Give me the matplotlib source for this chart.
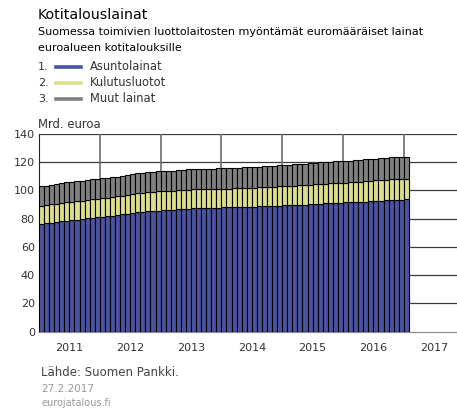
import numpy as np
import matplotlib
matplotlib.use("Agg")
import matplotlib.pyplot as plt

plt.rcParams['font.family'] = ['DejaVu Sans']

# Monthly data Jan 2011 .. Jan 2017, bn euro
asuntolainat = [
    76.3, 76.7, 77.1, 77.6, 78.1, 78.6, 79.0, 79.4, 79.8, 80.3, 80.7, 81.0,
    81.4, 81.7, 82.1, 82.6, 83.1, 83.6, 84.1, 84.5, 84.9, 85.3, 85.6, 85.8,
    86.0, 86.2, 86.4, 86.7, 86.9, 87.1, 87.3, 87.5, 87.6, 87.7, 87.8, 87.9,
    88.0, 88.1, 88.2, 88.3, 88.4, 88.5, 88.6, 88.7, 88.8, 89.0, 89.1, 89.2,
    89.4, 89.5, 89.6, 89.8, 90.0, 90.2, 90.4, 90.6, 90.8, 91.0, 91.2, 91.3,
    91.5, 91.6, 91.8, 92.0, 92.2, 92.5, 92.7, 92.9, 93.1, 93.3, 93.5, 93.6,
    93.8,
]
kulutusluotot = [
    12.9, 12.9, 13.0, 13.0, 13.0, 13.1, 13.1, 13.1, 13.1, 13.2, 13.2, 13.2,
    13.1, 13.1, 13.2, 13.2, 13.3, 13.4, 13.5, 13.5, 13.5, 13.5, 13.6, 13.6,
    13.5, 13.5, 13.5, 13.5, 13.5, 13.5, 13.5, 13.4, 13.4, 13.4, 13.4, 13.4,
    13.3, 13.3, 13.3, 13.3, 13.4, 13.4, 13.4, 13.5, 13.5, 13.5, 13.6, 13.7,
    13.7, 13.7, 13.8, 13.8, 13.9, 13.9, 14.0, 14.0, 14.1, 14.1, 14.2, 14.2,
    14.1, 14.1, 14.2, 14.2, 14.3, 14.3, 14.4, 14.4, 14.5, 14.5, 14.6, 14.6,
    14.6,
]
muut_lainat = [
    13.8, 13.8, 13.9, 13.9, 14.0, 14.0, 14.0, 14.1, 14.1, 14.1, 14.1, 14.1,
    14.1, 14.1, 14.1, 14.1, 14.1, 14.1, 14.1, 14.1, 14.1, 14.2, 14.2, 14.2,
    14.2, 14.2, 14.2, 14.2, 14.3, 14.3, 14.3, 14.3, 14.3, 14.3, 14.3, 14.3,
    14.3, 14.4, 14.4, 14.5, 14.6, 14.6, 14.6, 14.7, 14.7, 14.8, 14.8, 14.9,
    14.9, 15.0, 15.1, 15.1, 15.2, 15.2, 15.2, 15.3, 15.3, 15.3, 15.4, 15.4,
    15.4, 15.4, 15.4, 15.5, 15.5, 15.5, 15.5, 15.5, 15.6, 15.6, 15.6, 15.6,
    15.6,
]
start_year = 2011
years = [2011, 2012, 2013, 2014, 2015, 2016, 2017]
series_names = ["Asuntolainat", "Kulutusluotot", "Muut lainat"]
colors = ["#4a52a2", "#dcde8c", "#808080"]

fig = plt.figure(figsize=(4.57, 4.09), dpi=100)
ax = fig.add_axes([39 / 457, 77.3 / 409, 1 - 39 / 457, 197.7 / 409])

n = len(asuntolainat)
x = start_year + (np.arange(n) + 0.5) / 12
a = np.array(asuntolainat)
k = np.array(kulutusluotot)
m = np.array(muut_lainat)
w = 1 / 12
ax.bar(x, a, width=w, color=colors[0], edgecolor="black", linewidth=0.8, zorder=3)
ax.bar(x, k, width=w, bottom=a, color=colors[1], edgecolor="black", linewidth=0.8, zorder=3)
ax.bar(x, m, width=w, bottom=a + k, color=colors[2], edgecolor="black", linewidth=0.8, zorder=3)

ax.set_xlim(2011, 2017.875)
ax.set_ylim(0, 140)
ax.set_yticks(range(0, 141, 20))
ax.set_xticks([y + 0.5 for y in years])
ax.set_xticklabels([str(y) for y in years])
ax.tick_params(length=0, labelsize=8, colors="#333333", pad=3)
ax.tick_params(axis="x", pad=8)

for yv in range(20, 141, 20):
    ax.axhline(yv, color="#3a3a3a", linewidth=0.9, zorder=1)
for yr in years[1:]:
    ax.axvline(yr, color="#6e6e6e", linewidth=1.2, zorder=1)

for s in ["top", "right"]:
    ax.spines[s].set_visible(False)
ax.spines["left"].set_color("#222222")
ax.spines["bottom"].set_color("#888888")

# texts
fig.text(38 / 457, 1 - 15 / 409, "Kotitalouslainat", fontsize=10.2, va="center", ha="left")
fig.text(38 / 457, 1 - 32 / 409, "Suomessa toimivien luottolaitosten myöntämät euromääräiset lainat",
         fontsize=8, va="center", ha="left")
fig.text(38 / 457, 1 - 48 / 409, "euroalueen kotitalouksille", fontsize=8, va="center", ha="left")

for i, (name, c) in enumerate(zip(series_names, colors)):
    yy = 1 - (67 + 16 * i) / 409
    fig.text(38 / 457, yy, f"{i + 1}.", fontsize=8, va="center", ha="left", color="#333333")
    fig.add_artist(plt.Line2D([56 / 457, 81 / 457], [yy, yy], color=c, linewidth=2.6,
                              transform=fig.transFigure))
    fig.text(90 / 457, yy, name, fontsize=8.3, va="center", ha="left", color="#333333")

fig.text(38 / 457, 1 - 124 / 409, "Mrd. euroa", fontsize=8.4, va="center", ha="left", color="#333333")
fig.text(41 / 457, 1 - 373 / 409, "Lähde: Suomen Pankki.", fontsize=8.5, va="center", ha="left",
         color="#444444")
fig.text(41 / 457, 1 - 389 / 409, "27.2.2017", fontsize=7.5, va="center", ha="left", color="#999999")
fig.text(41 / 457, 1 - 403 / 409, "eurojatalous.fi", fontsize=7, va="center", ha="left",
         color="#999999")

fig.savefig("out.png", dpi=100)
